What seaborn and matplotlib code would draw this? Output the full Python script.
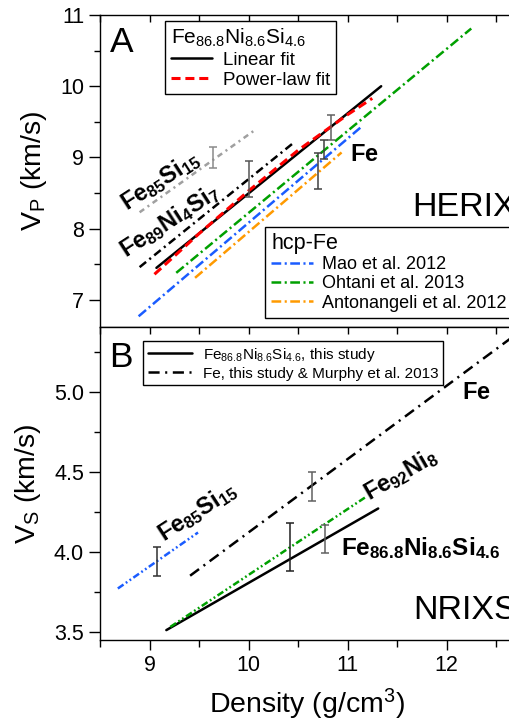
import numpy as np
import matplotlib
matplotlib.use("Agg")
import matplotlib.pyplot as plt
from matplotlib.ticker import MultipleLocator, FormatStrFormatter
import seaborn as sns

# ---- data ----
# panel A (HERIX), density in g/cm3, Vp in km/s
lin_rho = [9.07, 11.34]
lin_vp = [7.45, 10.0]
pow_rho = [9.05, 9.5, 10.0, 10.5, 11.0, 11.25]
pow_vp = [7.36, 7.93, 8.53, 9.10, 9.60, 9.83]
fenisi_rho = [8.9, 10.45]
fenisi_vp = [7.46, 9.2]
fesi_rho = [8.9, 10.07]
fesi_vp = [8.23, 9.39]
mao_rho = [8.89, 11.14]
mao_vp = [6.77, 9.43]
ohtani_rho = [9.27, 12.25]
ohtani_vp = [7.38, 10.81]
anton_rho = [9.46, 10.94]
anton_vp = [7.31, 9.07]
errA_rho = [9.64, 10.0, 10.70, 10.76, 10.83]
errA_vp = [9.00, 8.70, 8.81, 9.11, 9.42]
errA_err = [0.15, 0.25, 0.25, 0.13, 0.18]
errA_col = ['#8a8a8a', '#555555', '#404040', '#404040', '#606060']

# panel B (NRIXS), Vs in km/s
this_rho = [9.17, 11.31]
this_vs = [3.51, 4.27]
feni_rho = [9.21, 11.18]
feni_vs = [3.53, 4.34]
fe_rho = [9.41, 12.75]
fe_vs = [3.85, 5.38]
fesiB_rho = [8.68, 9.49]
fesiB_vs = [3.77, 4.12]
errB_rho = [9.08, 10.42, 10.64, 10.77]
errB_vs = [3.94, 4.03, 4.41, 4.08]
errB_err = [0.09, 0.15, 0.09, 0.09]
errB_col = ['#303030', '#202020', '#606060', '#606060']

sns.set_theme(style="ticks")
plt.rcParams['font.family'] = ['Liberation Sans', 'DejaVu Sans']
plt.rcParams['mathtext.fontset'] = 'custom'
plt.rcParams['mathtext.rm'] = 'Liberation Sans'
plt.rcParams['mathtext.it'] = 'Liberation Sans:italic'
plt.rcParams['mathtext.bf'] = 'Liberation Sans:bold'
plt.rcParams['lines.scale_dashes'] = False
plt.rcParams.update({'text.color': 'black', 'axes.labelcolor': 'black',
                     'xtick.color': 'black', 'ytick.color': 'black',
                     'axes.edgecolor': 'black'})

fig = plt.figure(figsize=(5.09, 7.21), dpi=100)
axA = fig.add_axes([0.1965, 0.5465, 0.8752, 0.4327])
axB = fig.add_axes([0.1965, 0.1123, 0.8752, 0.4341])

DASHDOT = (0, (7, 2.5, 1.5, 2.5))
DASHDOTDOT = (0, (5, 2, 1.3, 2, 1.3, 2))
BOLD = 17


def line(ax, x, y, color, ls, lw=1.8):
    sns.lineplot(x=x, y=y, ax=ax, color=color, linestyle=ls, linewidth=lw,
                 sort=False, estimator=None)
    return ax.lines[-1]


# ---- panel A ----
h_lin = line(axA, lin_rho, lin_vp, 'black', '-')
h_pow = line(axA, pow_rho, pow_vp, '#ff0000', (0, (6.5, 3.5)), lw=2.2)
line(axA, fenisi_rho, fenisi_vp, 'black', (0, (6, 3, 1.5, 3)))
line(axA, fesi_rho, fesi_vp, '#a0a0a0', (0, (4, 3, 1.5, 3)))
h_mao = line(axA, mao_rho, mao_vp, '#1a5cff', DASHDOT)
h_oht = line(axA, ohtani_rho, ohtani_vp, '#00a000', DASHDOT)
h_ant = line(axA, anton_rho, anton_vp, '#ff9a00', DASHDOT)
for x, y, e, c in zip(errA_rho, errA_vp, errA_err, errA_col):
    axA.errorbar(x, y, yerr=e, color=c, capsize=3, elinewidth=1.1, capthick=1.1)

axA.set_xlim(8.5, 13)
axA.set_ylim(6.62, 11)
axA.yaxis.set_major_locator(MultipleLocator(1))
axA.yaxis.set_minor_locator(MultipleLocator(0.5))

axA.text(9.11, 8.67, r'$\mathbf{Fe_{85}Si_{15}}$', fontsize=BOLD, rotation=33,
         ha='center', va='center')
axA.text(9.2, 8.1, r'$\mathbf{Fe_{89}Ni_{4}Si_{7}}$', fontsize=BOLD, rotation=33,
         ha='center', va='center')
axA.text(11.17, 9.03, r'$\mathbf{Fe}$', fontsize=BOLD, ha='center', va='center')
axA.text(11.65, 8.30, 'HERIX', fontsize=24.5, ha='left', va='center')
axA.text(0.022, 0.965, 'A', fontsize=25.5, transform=axA.transAxes, ha='left', va='top')
axA.set_ylabel(r'V$_\mathrm{P}$ (km/s)', fontsize=20.5, labelpad=8)

legA = axA.legend([h_lin, h_pow], ['Linear fit', 'Power-law fit'],
                  title=r'Fe$_{86.8}$Ni$_{8.6}$Si$_{4.6}$',
                  loc='upper left', bbox_to_anchor=(0.146, 0.981), borderaxespad=0,
                  fontsize=13.5, title_fontsize=15, alignment='left',
                  fancybox=False, edgecolor='black', framealpha=1,
                  handlelength=2.2, handletextpad=0.6, labelspacing=0.15,
                  borderpad=0.3)
legA.get_frame().set_linewidth(1.0)
axA.add_artist(legA)

legA2 = axA.legend([h_mao, h_oht, h_ant],
                   ['Mao et al. 2012', 'Ohtani et al. 2013', 'Antonangeli et al. 2012'],
                   title='hcp-Fe', loc='upper left', bbox_to_anchor=(0.37, 0.321),
                   borderaxespad=0, fontsize=13, title_fontsize=15.5, alignment='left',
                   fancybox=False, edgecolor='black', framealpha=1,
                   handlelength=2.3, handletextpad=0.5, labelspacing=0.12,
                   borderpad=0.35)
legA2.get_frame().set_linewidth(1.0)

# ---- panel B ----
h_this = line(axB, this_rho, this_vs, 'black', '-')
line(axB, feni_rho, feni_vs, '#00a000', DASHDOTDOT)
h_fe = line(axB, fe_rho, fe_vs, 'black', (0, (8, 4, 1.5, 4)))
line(axB, fesiB_rho, fesiB_vs, '#1a5cff', DASHDOTDOT)
for x, y, e, c in zip(errB_rho, errB_vs, errB_err, errB_col):
    axB.errorbar(x, y, yerr=e, color=c, capsize=3, elinewidth=1.1, capthick=1.1)

axB.set_xlim(8.5, 13)
axB.set_ylim(3.448, 5.404)
axB.yaxis.set_major_locator(MultipleLocator(0.5))
axB.yaxis.set_minor_locator(MultipleLocator(0.25))
axB.yaxis.set_major_formatter(FormatStrFormatter('%.1f'))

axB.text(12.3, 4.99, r'$\mathbf{Fe}$', fontsize=BOLD, ha='center', va='center')
axB.text(11.54, 4.48, r'$\mathbf{Fe_{92}Ni_{8}}$', fontsize=BOLD, rotation=30,
         ha='center', va='center')
axB.text(10.93, 4.02, r'$\mathbf{Fe_{86.8}Ni_{8.6}Si_{4.6}}$', fontsize=17.5,
         ha='left', va='center')
axB.text(9.48, 4.25, r'$\mathbf{Fe_{85}Si_{15}}$', fontsize=BOLD, rotation=33,
         ha='center', va='center')
axB.text(11.66, 3.63, 'NRIXS', fontsize=24.5, ha='left', va='center')
axB.text(0.02, 0.955, 'B', fontsize=25.5, transform=axB.transAxes, ha='left', va='top')
axB.set_ylabel(r'V$_\mathrm{S}$ (km/s)', fontsize=20.5, labelpad=8)
axB.set_xlabel(r'Density (g/cm$^3$)', fontsize=20.5)
axB.xaxis.set_label_coords(0.465, -0.148)

legB = axB.legend([h_this, h_fe],
                  [r'Fe$_{86.8}$Ni$_{8.6}$Si$_{4.6}$, this study',
                   'Fe, this study & Murphy et al. 2013'],
                  loc='upper left', bbox_to_anchor=(0.0965, 0.955), borderaxespad=0,
                  fontsize=11, fancybox=False, edgecolor='black', framealpha=1,
                  handlelength=2.9, handletextpad=0.7, labelspacing=0.2,
                  borderpad=0.3)
legB.get_frame().set_linewidth(1.0)

# ---- axes styling ----
for ax in (axA, axB):
    ax.xaxis.set_major_locator(MultipleLocator(1))
    ax.xaxis.set_minor_locator(MultipleLocator(0.5))
    ax.spines['right'].set_visible(False)
    for s in ax.spines.values():
        s.set_linewidth(1.0)
    ax.tick_params(axis='y', which='major', direction='out', length=8, width=1,
                   labelsize=15.5)
    ax.tick_params(axis='y', which='minor', direction='out', length=4, width=1)
    ax.tick_params(axis='x', which='both', top=True, width=1)

axA.tick_params(axis='x', which='both', bottom=False, labelbottom=False,
                direction='in', length=5)
axB.tick_params(axis='x', which='major', direction='out', length=7, labelsize=15.5)
axB.tick_params(axis='x', which='minor', direction='out', length=5)
# top spine ticks point inward
for ax in (axA, axB):
    for t in ax.xaxis.get_major_ticks() + ax.xaxis.get_minor_ticks():
        t.tick2line.set_marker(matplotlib.lines.TICKDOWN)
        t.tick2line.set_markersize(5)

fig.savefig('out.png', dpi=100)
